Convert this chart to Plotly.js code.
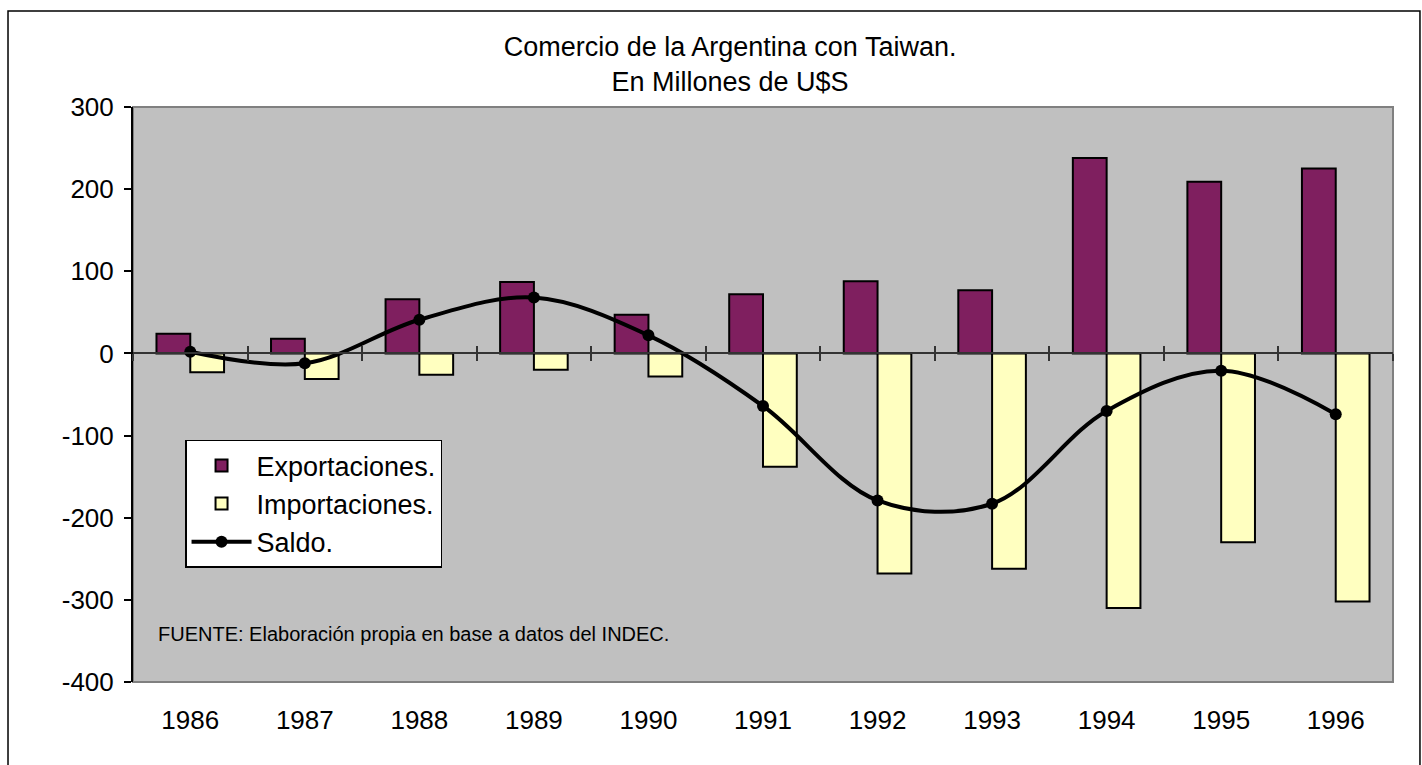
<!DOCTYPE html>
<html>
<head>
<meta charset="utf-8">
<script src="https://cdn.plot.ly/plotly-3.0.1.min.js"></script>
<style>html,body{margin:0;padding:0;background:#fff;}#chart{width:1422px;height:765px;}</style>
</head>
<body>
<div id="chart"></div>
<script>
const years = ["1986","1987","1988","1989","1990","1991","1992","1993","1994","1995","1996"];
const exportaciones = [24, 18, 66, 87, 47, 72, 88, 77, 238, 209, 225];
const importaciones = [-23, -31, -26, -20, -28, -138, -268, -262, -310, -230, -302];
const saldo = [2, -12, 41, 68, 22, -64, -179, -183, -70, -21, -74];
const yTicks = [300, 200, 100, 0, -100, -200, -300, -400];
const yTickLabels = ["300", "200", "100", "0", "-100", "-200", "-300", "-400"];

const FONT = "Liberation Sans, Arial, sans-serif";
const idx = years.map((_, i) => i);
const boundaries = [-0.5].concat(idx.map(i => i + 0.5));

const traces = [
  {type: "bar", name: "Exportaciones.", x: years, y: exportaciones,
   marker: {color: "#7F1F5F", line: {color: "#000", width: 2}}, xaxis: "x", yaxis: "y", hoverinfo: "x+y"},
  {type: "bar", name: "Importaciones.", x: years, y: importaciones,
   marker: {color: "#FFFFC0", line: {color: "#000", width: 2}}, xaxis: "x", yaxis: "y", hoverinfo: "x+y"},
  {type: "scatter", mode: "lines+markers", name: "Saldo.", x: idx, y: saldo,
   line: {color: "#000", width: 4, shape: "spline", smoothing: 1},
   marker: {color: "#000", size: 12}, xaxis: "x2", yaxis: "y", text: years, hoverinfo: "text+y"}
];

const layout = {
  width: 1422, height: 765,
  margin: {l: 133, r: 29, t: 107, b: 83},
  paper_bgcolor: "#FFFFFF",
  plot_bgcolor: "#C0C0C0",
  font: {family: FONT, color: "#000", size: 26},
  showlegend: true,
  barmode: "group",
  bargap: 0.41,
  bargroupgap: 0,
  title: {
    text: "Comercio de la Argentina con Taiwan.<br>En Millones de U$S",
    font: {family: FONT, size: 27, color: "#000"},
    xref: "container", x: 0.5134, xanchor: "center",
    yref: "container", y: 0.927, yanchor: "middle"
  },
  xaxis: {
    type: "category", categoryorder: "array", categoryarray: years,
    range: [-0.5, 10.5],
    anchor: "free", position: 4/7,
    showline: false, showgrid: false, zeroline: false,
    ticks: "inside", tickson: "boundaries", ticklen: 7, tickwidth: 1.5, tickcolor: "#333",
    showticklabels: true, ticklabelstandoff: 349,
    tickfont: {family: FONT, size: 26, color: "#000"}
  },
  xaxis2: {
    type: "linear", overlaying: "x", anchor: "free", position: 4/7,
    range: [-0.5, 10.5],
    showline: true, linecolor: "#333", linewidth: 1.5,
    showgrid: false, zeroline: false,
    tickmode: "array", tickvals: boundaries,
    ticks: "outside", ticklen: 7, tickwidth: 1.5, tickcolor: "#333",
    showticklabels: false
  },
  yaxis: {
    range: [-400, 300], tickmode: "array", tickvals: yTicks, ticktext: yTickLabels,
    showline: true, linecolor: "#000", linewidth: 2,
    ticks: "outside", ticklen: 7, tickwidth: 1.5, tickcolor: "#000",
    showgrid: false, zeroline: false,
    ticklabelstandoff: 5,
    tickfont: {family: FONT, size: 26, color: "#000"}
  },
  legend: {
    x: 0.0413, y: 0.421, xanchor: "left", yanchor: "top",
    bgcolor: "#FFFFFF", bordercolor: "#000", borderwidth: 1.5,
    font: {family: FONT, size: 27, color: "#000"},
    traceorder: "normal", itemwidth: 60, tracegroupgap: 0
  },
  shapes: [
    {type: "rect", xref: "paper", yref: "paper", x0: 0, x1: 1, y0: 0, y1: 1,
     line: {color: "#808080", width: 2}, layer: "below"},
    {type: "rect", xref: "paper", yref: "paper", x0: -0.0992, x1: 1.0214, y0: -0.16, y1: 1.167,
     line: {color: "#000", width: 1.5}, fillcolor: "rgba(0,0,0,0)", layer: "above"}
  ],
  annotations: [
    {text: "FUENTE: Elaboración propia en base a datos del INDEC.", xref: "paper", yref: "paper",
     x: 0.018, y: 0.0835, xanchor: "left", yanchor: "middle", showarrow: false,
     font: {family: FONT, size: 20, color: "#000"}}
  ]
};

Plotly.newPlot("chart", traces, layout, {displayModeBar: false, responsive: false});
</script>
</body>
</html>
